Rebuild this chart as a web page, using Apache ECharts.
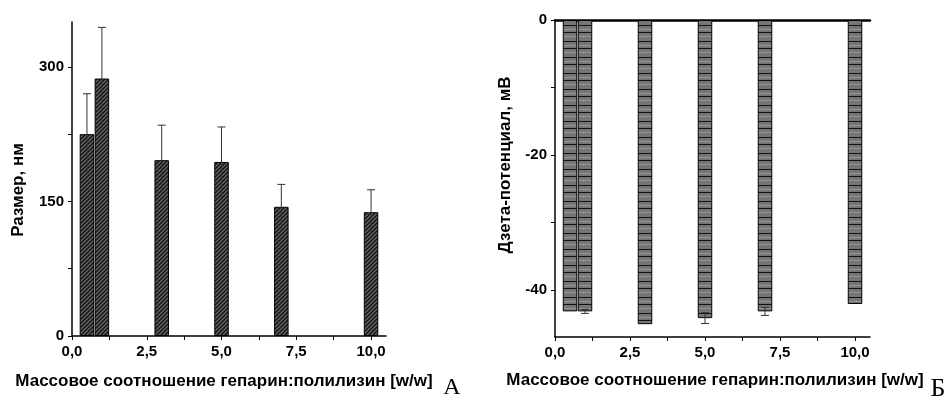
<!DOCTYPE html>
<html><head><meta charset="utf-8">
<script src="https://cdn.jsdelivr.net/npm/echarts@6/dist/echarts.min.js"></script>
<style>html,body{margin:0;padding:0;background:#fff}#c{width:950px;height:397px}</style>
</head><body><div id="c"></div>
<script>
// ---- data ----
const ratios = [0.5, 1, 3, 5, 7, 10];
const sizeNm = [225, 287, 196, 194, 144, 138];
const sizeErr = [45, 57, 39, 39, 25, 25];
const zeta = [-43.2, -43.2, -45.1, -44.2, -43.2, -42.1];
const zetaErr = [0, 0.3, 0, 0.8, 0.6, 0];
const xTickLabels = [0, 2.5, 5, 7.5, 10];
const xMinorTicks = [1.25, 3.75, 6.25, 8.75];
const sizeTicks = [0, 150, 300];
const sizeMinor = [75, 225];
const zetaTicks = [0, -20, -40];
const zetaMinor = [-10, -30];
const xTitle = 'Массовое соотношение гепарин:полилизин [w/w]';
const yTitleA = 'Размер, нм';
const yTitleB = 'Дзета-потенциал, мВ';
const panelA = 'А';
const panelB = 'Б';

// ---- patterns ----
function hatchDiag(){
  const c = document.createElement('canvas'); c.width = 4; c.height = 4;
  const g = c.getContext('2d');
  g.fillStyle = '#666666'; g.fillRect(0,0,4,4);
  g.strokeStyle = '#111'; g.lineWidth = 1.4;
  g.beginPath();
  g.moveTo(-1,5); g.lineTo(5,-1);
  g.moveTo(-1,1); g.lineTo(1,-1);
  g.moveTo(3,5); g.lineTo(5,3);
  g.stroke();
  return c;
}
function hatchHoriz(){
  const c = document.createElement('canvas'); c.width = 8; c.height = 16;
  const g = c.getContext('2d');
  g.fillStyle = '#767676'; g.fillRect(0,0,8,16);
  g.fillStyle = '#111'; g.fillRect(0,0,8,1); g.fillRect(0,9,8,1);
  g.fillStyle = '#959595'; g.fillRect(0,4,8,1); g.fillRect(0,13,8,1);
  return c;
}

const FONT = '"Liberation Sans", Arial, sans-serif';
const fmtX = v => Number(v).toFixed(1).replace('.', ',');

function xAxisCfg(gridIndex){
  return {
    type:'value', gridIndex, min:0, max:10.5, position:'bottom',
    axisLine:{onZero:false, lineStyle:{color:'#000', width:1.5}},
    axisTick:{show:true, length:4, customValues: xTickLabels.concat(xMinorTicks), lineStyle:{color:'#000', width:1}},
    axisLabel:{customValues: xTickLabels, formatter: fmtX, color:'#000', fontWeight:'bold', fontSize:15, fontFamily:FONT, margin:8},
    splitLine:{show:false}
  };
}

function errRender(capBottom){
  return function(params, api){
    const x = api.value(0), lo = api.value(1), hi = api.value(2);
    const pLo = api.coord([x, lo]), pHi = api.coord([x, hi]);
    const hw = 4;
    const st = {stroke:'#333', lineWidth:1};
    const ch = [
      {type:'line', shape:{x1:pLo[0], y1:pLo[1], x2:pHi[0], y2:pHi[1]}, style:st},
      {type:'line', shape:{x1:pHi[0]-hw, y1:pHi[1], x2:pHi[0]+hw, y2:pHi[1]}, style:st}
    ];
    if (capBottom) ch.push({type:'line', shape:{x1:pLo[0]-hw, y1:pLo[1], x2:pLo[0]+hw, y2:pLo[1]}, style:st});
    return {type:'group', children:ch};
  };
}

const chart = echarts.init(document.getElementById('c'), null, {renderer:'canvas'});
const option = {
  animation:false,
  backgroundColor:'#fff',
  grid:[
    {left:72, top:22, width:314, height:314},
    {left:555, top:20, width:315, height:317}
  ],
  xAxis:[
    xAxisCfg(0),
    xAxisCfg(1),
    {type:'value', gridIndex:1, min:0, max:10.5, position:'top',
      axisLine:{onZero:false, lineStyle:{color:'#000', width:2.5}}, axisTick:{show:false}, axisLabel:{show:false}, splitLine:{show:false}}
  ],
  yAxis:[
    {type:'value', gridIndex:0, min:0, max:350,
      axisLine:{show:true, lineStyle:{color:'#000', width:1.5}},
      axisTick:{show:true, length:4, customValues: sizeTicks.concat(sizeMinor), lineStyle:{color:'#000'}},
      axisLabel:{customValues: sizeTicks, color:'#000', fontWeight:'bold', fontSize:15, fontFamily:FONT, margin:8},
      splitLine:{show:false}},
    {type:'value', gridIndex:1, min:-47, max:0,
      axisLine:{show:true, onZero:false, lineStyle:{color:'#000', width:1.5}},
      axisTick:{show:true, length:4, customValues: zetaTicks.concat(zetaMinor), lineStyle:{color:'#000'}},
      axisLabel:{customValues: zetaTicks, color:'#000', fontWeight:'bold', fontSize:15, fontFamily:FONT, margin:8},
      splitLine:{show:false}}
  ],
  series:[
    {type:'bar', xAxisIndex:0, yAxisIndex:0, barWidth:14.5,
      data: ratios.map((x,i)=>[x, sizeNm[i]]),
      itemStyle:{color:{image:hatchDiag(), repeat:'repeat'}, borderColor:'#000', borderWidth:1}},
    {type:'custom', xAxisIndex:0, yAxisIndex:0, z:5,
      data: ratios.map((x,i)=>[x, sizeNm[i]-sizeErr[i], sizeNm[i]+sizeErr[i]]),
      renderItem: errRender(false)},
    {type:'bar', xAxisIndex:1, yAxisIndex:1, barWidth:14.5,
      data: ratios.map((x,i)=>[x, zeta[i]]),
      itemStyle:{color:{image:hatchHoriz(), repeat:'repeat'}, borderColor:'#000', borderWidth:1}},
    {type:'custom', xAxisIndex:1, yAxisIndex:1, z:5,
      data: ratios.map((x,i)=>[x, zeta[i]-zetaErr[i], zeta[i]+zetaErr[i]]).filter((d,i)=>zetaErr[i]>0),
      renderItem: errRender(true)}
  ],
  graphic:[
    {type:'text', x:18, y:190, rotation:Math.PI/2, style:{text:yTitleA, font:'bold 17px '+FONT, fill:'#000', align:'center', verticalAlign:'middle'}},
    {type:'text', x:505, y:165, rotation:Math.PI/2, style:{text:yTitleB, font:'bold 17px '+FONT, fill:'#000', align:'center', verticalAlign:'middle'}},
    {type:'text', x:224, y:381, style:{text:xTitle, font:'bold 17px '+FONT, fill:'#000', align:'center', verticalAlign:'middle'}},
    {type:'text', x:715, y:380, style:{text:xTitle, font:'bold 17px '+FONT, fill:'#000', align:'center', verticalAlign:'middle'}},
    {type:'text', x:452, y:388, style:{text:panelA, font:'24px "Liberation Serif", "DejaVu Serif", serif', fill:'#000', align:'center', verticalAlign:'middle'}},
    {type:'text', x:938, y:389, style:{text:panelB, font:'26px "Liberation Serif", "DejaVu Serif", serif', fill:'#000', align:'center', verticalAlign:'middle'}}
  ]
};
chart.setOption(option);
</script>
</body></html>
